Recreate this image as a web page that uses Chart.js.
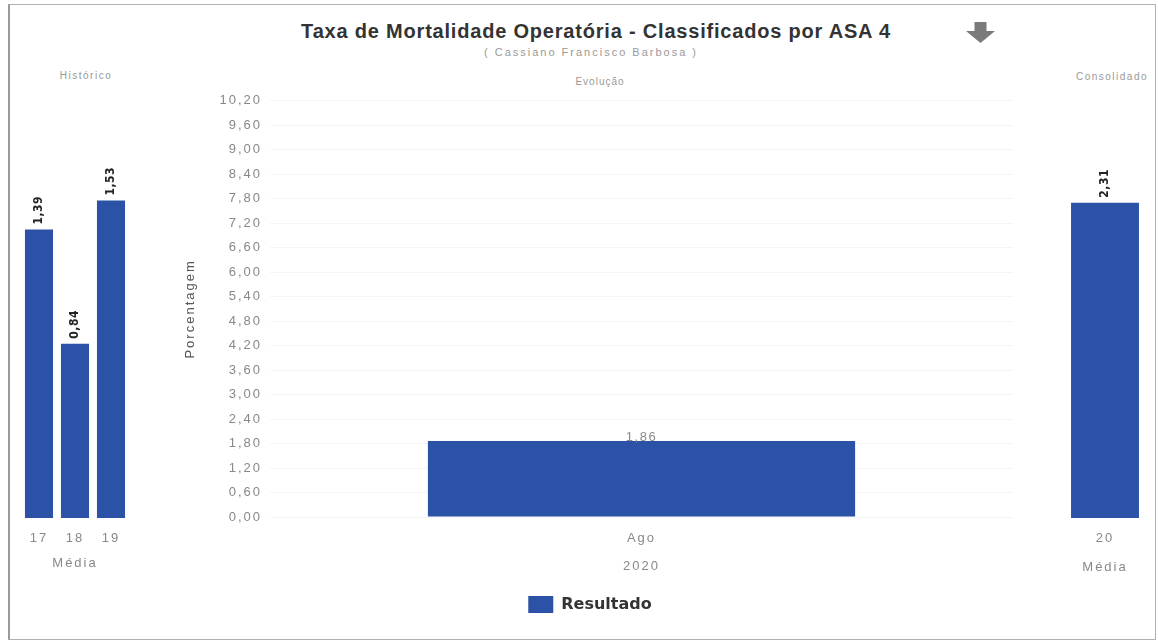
<!DOCTYPE html>
<html><head><meta charset="utf-8">
<script src="https://cdn.jsdelivr.net/npm/chart.js@4.4.0/dist/chart.umd.min.js"></script>
<style>
html,body{margin:0;padding:0;background:#fff;width:1158px;height:642px;overflow:hidden;font-family:"Liberation Sans",Arial,sans-serif;}
#frame{position:absolute;left:8px;top:4px;width:1145px;height:634px;border:1px solid #b0b0b0;border-left:2px solid #9a9a9a;}
.txt{position:absolute;white-space:nowrap;transform:translate(-50%,-50%);}
#title{left:596px;top:31px;font-weight:bold;font-size:20px;letter-spacing:0.8px;color:#333;}
#sub{left:591px;top:52px;font-size:11px;color:#999;letter-spacing:2px;}
#evo{left:600px;top:81px;font-size:10px;color:#999;letter-spacing:1px;}
#hist{left:86px;top:75px;font-size:10px;color:#999;letter-spacing:1.5px;}
#cons{left:1112px;top:76px;font-size:10px;color:#999;letter-spacing:1.5px;}
#arrow{position:absolute;left:966px;top:22px;}
canvas{position:absolute;}
</style>
</head><body>
<div id="frame"></div>
<div class="txt" id="title">Taxa de Mortalidade Operatória - Classificados por ASA 4</div>
<div class="txt" id="sub">( Cassiano Francisco Barbosa )</div>
<div class="txt" id="evo">Evolução</div>
<div class="txt" id="hist">Histórico</div>
<div class="txt" id="cons">Consolidado</div>
<svg id="arrow" width="29" height="21" viewBox="0 0 29 21"><polygon points="8.5,0 20.5,0 20.5,9 29,9 14.5,21 0,9 8.5,9" fill="#7a7a7a"/></svg>
<canvas id="cHist" width="125" height="488" style="left:15px;top:85px"></canvas>
<canvas id="cEvo" width="846" height="538" style="left:167px;top:85px"></canvas>
<canvas id="cCons" width="116" height="492" style="left:1040px;top:85px"></canvas>
<script>
// ---- data ----
const histLabels = ['17', '18', '19'];
const histValues = [1.39, 0.84, 1.53];
const histAxisTitle = 'Média';

const evoLabels = ['Ago'];
const evoValues = [1.86];
const evoYear = '2020';
const seriesName = 'Resultado';

const consLabels = ['20'];
const consValues = [2.31];
const consAxisTitle = 'Média';

const yAxisTitle = 'Porcentagem';
const yMin = 0, yMax = 10.2, yStep = 0.6;

// ---- helpers ----
const BLUE = '#2b52a6';
const fmt = v => Number(v).toFixed(2).replace('.', ',');

const spacingPlugin = {
  id: 'spacing',
  afterInit(chart) {
    if (chart.legend) {
      const lg = chart.legend;
      const orig = lg.draw.bind(lg);
      lg.draw = function(a) {
        const c = chart.ctx; const p = c.letterSpacing;
        c.letterSpacing = '0px'; orig(a); c.letterSpacing = p;
      };
    }
  },
  beforeDraw(chart) { chart.ctx.letterSpacing = '2px'; }
};

const labelPlugin = {
  id: 'valueLabels',
  afterDatasetsDraw(chart, args, opts) {
    const ctx = chart.ctx;
    const meta = chart.getDatasetMeta(0);
    const data = chart.data.datasets[0].data;
    meta.data.forEach((bar, i) => {
      const txt = fmt(data[i]);
      ctx.save();
      ctx.font = opts.font;
      ctx.letterSpacing = opts.spacing;
      ctx.fillStyle = opts.color;
      if (opts.mode === 'rotated') {
        ctx.translate(bar.x, bar.y - 5);
        ctx.rotate(-Math.PI / 2);
        ctx.textAlign = 'left';
        ctx.textBaseline = 'middle';
        ctx.fillText(txt, 0, 0);
      } else {
        ctx.textAlign = 'center';
        ctx.textBaseline = 'middle';
        ctx.fillText(txt, bar.x, bar.y - 4);
      }
      ctx.restore();
    });
  }
};

Chart.defaults.font.family = '"Liberation Sans", Arial, sans-serif';

function sideChart(id, labels, values, max, pad, barPct, title, axisH, tickPad, titlePad) {
  return new Chart(document.getElementById(id), {
    type: 'bar',
    data: { labels: labels, datasets: [{ label: seriesName, data: values, backgroundColor: BLUE, borderWidth: 0, categoryPercentage: 1, barPercentage: barPct }] },
    options: {
      responsive: false, animation: false, devicePixelRatio: 1,
      layout: { padding: pad },
      plugins: {
        legend: { display: false }, tooltip: { enabled: false },
        valueLabels: { mode: 'rotated', font: 'bold 12px "Liberation Sans Narrow", "DejaVu Sans Condensed", sans-serif', color: '#222', spacing: '0.5px' }
      },
      scales: {
        x: {
          grid: { display: false }, border: { display: false },
          ticks: { color: '#888', font: { size: 13 }, padding: tickPad },
          title: { display: true, text: title, color: '#888', font: { size: 13 }, padding: { top: 0, bottom: titlePad } },
          afterFit(s) { s.height = axisH; }
        },
        y: { display: false, min: 0, max: max }
      }
    },
    plugins: [spacingPlugin, labelPlugin]
  });
}

sideChart('cHist', histLabels, histValues, 2.0, { left: 6, right: 11, top: 18, bottom: 0 }, 0.78, histAxisTitle, 55, 5, 2);
sideChart('cCons', consLabels, consValues, 3.04, { left: 22, right: 8, top: 18, bottom: 0 }, 0.79, consAxisTitle, 59, 5, 2);

new Chart(document.getElementById('cEvo'), {
  type: 'bar',
  data: { labels: evoLabels, datasets: [{ label: seriesName, data: evoValues, backgroundColor: BLUE, borderWidth: 0, categoryPercentage: 1, barPercentage: 0.575 }] },
  options: {
    responsive: false, animation: false, devicePixelRatio: 1,
    layout: { padding: { top: 15, left: 0, right: 0, bottom: 0 } },
    plugins: {
      tooltip: { enabled: false },
      legend: {
        position: 'bottom',
        labels: { boxWidth: 25, boxHeight: 17, padding: 17, color: '#333', font: { family: '"DejaVu Sans", sans-serif', weight: 'bold', size: 16 } }
      },
      valueLabels: { mode: 'flat', font: '13px "Liberation Sans", Arial, sans-serif', color: '#8a8a8a', spacing: '1.5px' }
    },
    scales: {
      x: {
        grid: { display: false }, border: { display: false },
        ticks: { color: '#888', font: { size: 13 }, padding: 6 },
        title: { display: true, text: evoYear, color: '#888', font: { size: 13 }, padding: { top: 0, bottom: 5 } },
        afterFit(s) { s.height = 62; }
      },
      y: {
        min: yMin, max: yMax,
        ticks: { stepSize: yStep, color: '#888', font: { size: 13 }, padding: 8, callback: v => fmt(v) },
        grid: { color: 'rgba(0,0,0,0.04)', drawTicks: false },
        border: { display: false },
        title: { display: true, text: yAxisTitle, color: '#555', font: { size: 13 }, padding: { top: 16 } },
        afterFit(s) { s.width = 103; }
      }
    }
  },
  plugins: [spacingPlugin, labelPlugin]
});
</script>
</body></html>
